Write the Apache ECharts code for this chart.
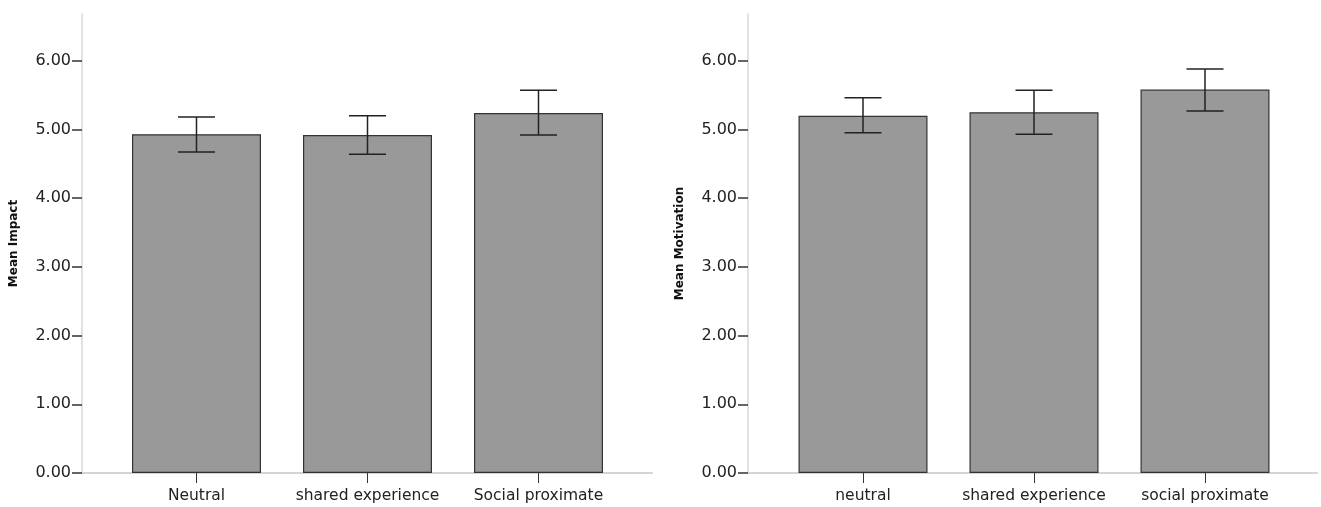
<!DOCTYPE html>
<html>
<head>
<meta charset="utf-8">
<script src="https://cdn.jsdelivr.net/npm/echarts@6/dist/echarts.min.js"></script>
<style>
html,body{margin:0;padding:0;background:#fff;}
#c{width:1321px;height:507px;}
</style>
</head>
<body>
<div id="c"></div>
<script>
// ---- data ----
const catsImpact = ['Neutral', 'shared experience', 'Social proximate'];
const meanImpact = [4.93, 4.92, 5.24];
const lowImpact  = [4.67, 4.64, 4.92];
const highImpact = [5.18, 5.20, 5.57];

const catsMotiv = ['neutral', 'shared experience', 'social proximate'];
const meanMotiv = [5.20, 5.25, 5.58];
const lowMotiv  = [4.95, 4.93, 5.27];
const highMotiv = [5.46, 5.57, 5.88];

const yTicks = [0, 1, 2, 3, 4, 5, 6];
const yMax = 6.68;

// ---- chart ----
const chart = echarts.init(document.getElementById('c'), null, {renderer: 'canvas'});
const FONT = 'DejaVu Sans';
const TOP = 14, BOTTOM = 34;

function outerX(idx) {
  return {
    type: 'value', gridIndex: idx, min: 0, max: 1,
    axisLine: {show: true, onZero: false, lineStyle: {color: '#d4d4d4', width: 2}},
    axisTick: {show: false}, axisLabel: {show: false}, splitLine: {show: false}
  };
}
function innerX(idx, cats) {
  return {
    type: 'category', gridIndex: idx, data: cats, boundaryGap: true,
    axisLine: {show: false},
    axisTick: {show: true, alignWithLabel: true, interval: 0, length: 10, lineStyle: {color: '#333', width: 1}},
    axisLabel: {interval: 0, hideOverlap: false, color: '#222', fontSize: 15.5, fontFamily: FONT, margin: 15},
    splitLine: {show: false}
  };
}
function outerY(idx, name) {
  return {
    type: 'value', gridIndex: idx, min: 0, max: yMax,
    name: name, nameLocation: 'middle', nameGap: 62,
    nameTextStyle: {fontFamily: FONT, fontSize: 12, fontWeight: 'bold', color: '#111'},
    axisLine: {show: true, lineStyle: {color: '#d8d8d8', width: 1.5}},
    axisTick: {show: true, length: 10, customValues: yTicks, lineStyle: {color: '#333', width: 1.5}},
    axisLabel: {show: true, customValues: yTicks, color: '#222', fontSize: 16, fontFamily: FONT, margin: 11,
                formatter: v => v.toFixed(2)},
    splitLine: {show: false}
  };
}
function innerY(idx) {
  return {
    type: 'value', gridIndex: idx, min: 0, max: yMax,
    axisLine: {show: false}, axisTick: {show: false}, axisLabel: {show: false}, splitLine: {show: false}
  };
}

function errorSeries(xi, yi, means, lows, highs) {
  const data = means.map((m, i) => [i, lows[i], highs[i]]);
  return {
    type: 'custom', xAxisIndex: xi, yAxisIndex: yi, z: 10,
    data: data,
    renderItem: function (params, api) {
      const x = api.value(0);
      const lo = api.coord([x, api.value(1)]);
      const hi = api.coord([x, api.value(2)]);
      const hw = 18.5;
      const st = {stroke: '#222', lineWidth: 1.5};
      return {
        type: 'group',
        children: [
          {type: 'line', shape: {x1: hi[0], y1: hi[1], x2: lo[0], y2: lo[1]}, style: st},
          {type: 'line', shape: {x1: hi[0] - hw, y1: hi[1], x2: hi[0] + hw, y2: hi[1]}, style: st},
          {type: 'line', shape: {x1: lo[0] - hw, y1: lo[1], x2: lo[0] + hw, y2: lo[1]}, style: st}
        ]
      };
    }
  };
}

function barSeries(xi, yi, means) {
  return {
    type: 'bar', xAxisIndex: xi, yAxisIndex: yi, data: means, barWidth: 129,
    itemStyle: {color: '#999999', borderColor: '#333333', borderWidth: 1.2},
    emphasis: {disabled: true}, silent: true
  };
}

chart.setOption({
  animation: false,
  backgroundColor: '#ffffff',
  grid: [
    {left: 82, width: 570, top: TOP, bottom: BOTTOM},
    {left: 111, width: 513, top: TOP, bottom: BOTTOM},
    {left: 748, width: 569, top: TOP, bottom: BOTTOM},
    {left: 777.5, width: 513, top: TOP, bottom: BOTTOM}
  ],
  xAxis: [outerX(0), innerX(1, catsImpact), outerX(2), innerX(3, catsMotiv)],
  yAxis: [outerY(0, 'Mean Impact'), innerY(1), outerY(2, 'Mean Motivation'), innerY(3)],
  series: [
    barSeries(1, 1, meanImpact),
    errorSeries(1, 1, meanImpact, lowImpact, highImpact),
    barSeries(3, 3, meanMotiv),
    errorSeries(3, 3, meanMotiv, lowMotiv, highMotiv)
  ]
});
</script>
</body>
</html>
